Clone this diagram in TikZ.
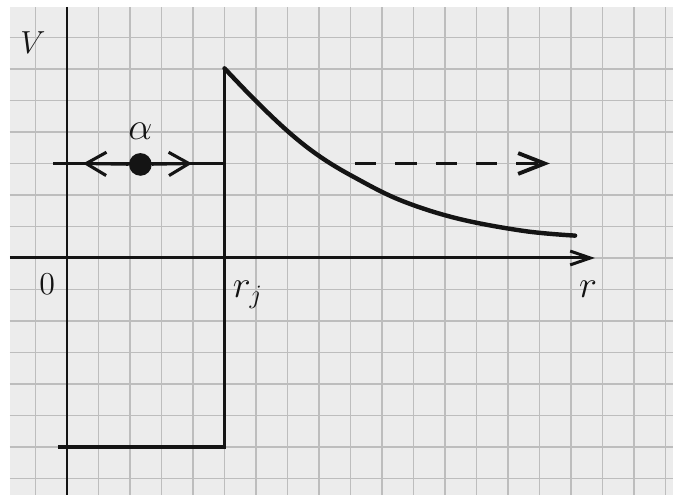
\documentclass[tikz,border=0pt]{standalone}
\usepackage{xcolor}
\usepackage{tikz}
\usetikzlibrary{arrows.meta, positioning}
\definecolor{paper}{HTML}{ECECEC}
\definecolor{gridgray}{HTML}{BDBDBD}
\definecolor{ink}{HTML}{141414}
\tikzset{
  sheet/.style={fill=paper, draw=none},
  squares/.style={draw=gridgray, line width=0.65pt},
  axis/.style={draw=ink, line width=1.35pt},
  axisarrow/.style={axis, -{Straight Barb[length=3.2mm, width=2.2mm]}},
  well/.style={draw=ink, line width=1.6pt, line join=miter},
  decay/.style={draw=ink, line width=2pt, line cap=round},
  level/.style={draw=ink, line width=1.35pt},
  barb/.style={draw=ink, line width=1.4pt, -{Straight Barb[length=3.2mm, width=3.7mm]}},
  escape/.style={draw=ink, line width=1.75pt, dash pattern=on 3.4mm off 3mm, -{Straight Barb[length=4.2mm, width=3.3mm]}},
  particle/.style={circle, fill=ink, minimum size=3.6mm, inner sep=0pt},
  tag/.style={text=ink, font=\LARGE, inner sep=0pt},
}

\begin{document}
\begin{tikzpicture}[x=0.5cm, y=0.5cm]
  % page and squared paper
  \useasboundingbox[fill=white] (-2.127,-7.524) rectangle (19.238,8.19);
  \fill[sheet] (-1.81,-7.524) rectangle (19.238,7.97);
  \draw[squares, step=1] (-1.81,-7.524) grid (19.238,7.97);
  % axes
  \coordinate (origin) at (0,0);
  \coordinate (rstart) at (-1.81,0);
  \coordinate (rend) at (16.76,0);
  \coordinate (vtop) at (0,7.97);
  \coordinate (vbottom) at (0,-7.524);
  \draw[axisarrow] (rstart) -- (rend);
  \draw[axis] (vtop) -- (vbottom);
  \node[tag, font=\Large] (vlabel) at (-1.08,6.83) {$V$};
  \node[tag, font=\Large] (zero) at (-0.63,-0.83) {$0$};
  \node[tag] (rlabel) at (16.54,-0.98) {$r$};
  % square well and barrier
  \coordinate (wellleft) at (-0.29,-6);
  \coordinate (wellcorner) at (5,-6);
  \coordinate (walltop) at (5,6.02);
  \node[tag, anchor=base west] (rj) at (5.25,-1.27) {$r_j$};
  \draw[well] (wellleft) -- (wellcorner) -- (walltop);
  \draw[decay] plot[smooth, tension=0.6] coordinates {(5,6.02) (6.02,4.96) (7.08,3.96) (8.03,3.22) (9.09,2.58) (10.57,1.84) (12.37,1.26) (14.49,0.86) (16.13,0.71)};
  % alpha particle bouncing inside
  \coordinate (levelleft) at (-0.44,3);
  \coordinate (levelright) at (5,3);
  \coordinate (leftbarb) at (0.51,3);
  \coordinate (rightbarb) at (3.97,3);
  \draw[level] (levelleft) -- (levelright);
  \node[particle] (alpha) at (2.33,2.97) {};
  \node[tag, above=5.2mm of alpha.center, anchor=center] (alphalabel) {$\alpha$};
  \draw[barb] (alpha) -- (leftbarb);
  \draw[barb] (alpha) -- (rightbarb);
  % tunnelling out
  \coordinate (escstart) at (9.14,3);
  \coordinate (escend) at (15.33,3);
  \draw[escape] (escstart) -- (escend);
\end{tikzpicture}
\end{document}
